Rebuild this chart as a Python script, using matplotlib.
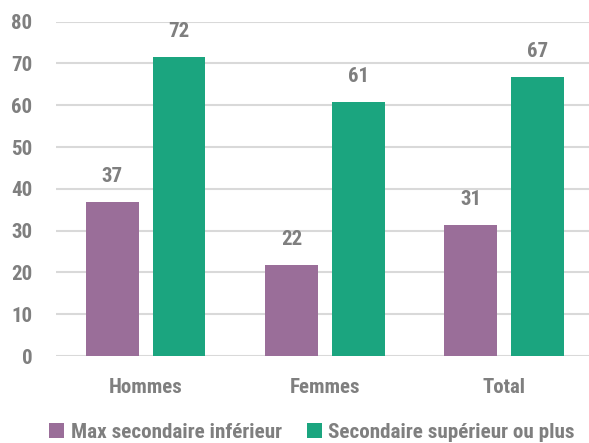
import matplotlib
matplotlib.use("Agg")
import matplotlib.pyplot as plt
from matplotlib import font_manager as fm
import numpy as np

categories = ["Hommes", "Femmes", "Total"]
series_names = ["Max secondaire inférieur", "Secondaire supérieur ou plus"]
max_sec_inf = [36.8, 21.7, 31.3]
sec_sup_plus = [71.5, 60.8, 66.7]
yticks = [0, 10, 20, 30, 40, 50, 60, 70, 80]

colors = ["#9A6E99", "#1BA57F"]
txt_color = "#7F7F7F"

available = {f.name for f in fm.fontManager.ttflist}
family = "DejaVu Sans"
for cand in ["Roboto Condensed", "Liberation Sans Narrow", "DejaVu Sans Condensed", "Roboto"]:
    if cand in available:
        family = cand
        break
plt.rcParams["font.family"] = [family, "DejaVu Sans"]
plt.rcParams["font.weight"] = "bold"

fs = 15

fig = plt.figure(figsize=(5.89, 4.43), dpi=100)
ax = fig.add_axes([56 / 589, (443 - 356) / 443, 1 - 56 / 589 + 0.008, (356 - 21.7) / 443])

x = np.arange(len(categories))
w = 0.295
off = 0.186
b1 = ax.bar(x - off, max_sec_inf, w, color=colors[0], label=series_names[0], zorder=3)
b2 = ax.bar(x + off, sec_sup_plus, w, color=colors[1], label=series_names[1], zorder=3)

for bars, vals in ((b1, max_sec_inf), (b2, sec_sup_plus)):
    for rect, v in zip(bars, vals):
        ax.annotate(f"{round(v)}", (rect.get_x() + rect.get_width() / 2, v),
                    xytext=(0, 18.5), textcoords="offset points", ha="center", va="center",
                    fontsize=fs, fontweight="bold", color=txt_color)

ax.set_ylim(0, 80)
ax.set_xlim(-0.5, 2.5)
ax.set_yticks(yticks)
ax.set_yticklabels([str(t) for t in yticks])
ax.set_xticks(x)
ax.set_xticklabels(categories)
ax.tick_params(axis="both", length=0, labelsize=fs, labelcolor=txt_color)
ax.tick_params(axis="y", pad=17)
ax.tick_params(axis="x", pad=16)
ax.grid(axis="y", color="#D9D9D9", linewidth=1.5, zorder=0)
for s in ax.spines.values():
    s.set_visible(False)

leg = fig.legend(loc="center", bbox_to_anchor=(312 / 589, (443 - 432) / 443), ncol=2, frameon=False,
                 fontsize=15.2, handlelength=0.7, handleheight=0.7, handletextpad=0.3,
                 columnspacing=1.2, labelcolor=txt_color)
fig.savefig("out.png", dpi=100)
